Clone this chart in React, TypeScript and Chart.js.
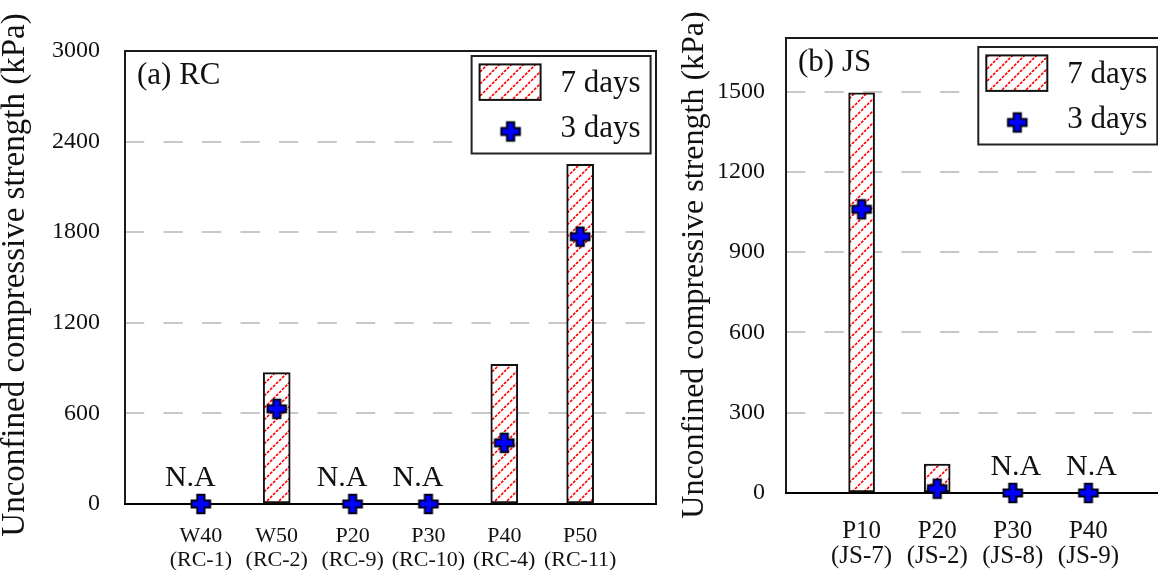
import React, { useEffect, useRef } from 'react';
import { Chart, registerables } from 'chart.js';

Chart.register(...registerables);

const FONT = "'Liberation Serif', 'Times New Roman', Times, serif";

// ---- (a) RC data ----
const rcMixes = ['W40', 'W50', 'P20', 'P30', 'P40', 'P50'];
const rcCodes = ['(RC-1)', '(RC-2)', '(RC-9)', '(RC-10)', '(RC-4)', '(RC-11)'];
const rc7Days: (number | null)[] = [null, 870, null, null, 925, 2250];
const rc3Days: (number | null)[] = [0, 630, 0, 0, 405, 1770];
const rcYTicks = [0, 600, 1200, 1800, 2400, 3000];
const rcYMax = 3000;

// ---- (b) JS data ----
const jsMixes = ['P10', 'P20', 'P30', 'P40'];
const jsCodes = ['(JS-7)', '(JS-2)', '(JS-8)', '(JS-9)'];
const js7Days: (number | null)[] = [1495, 108, null, null];
const js3Days: (number | null)[] = [1060, 16, 0, 0];
const jsYTicks = [0, 300, 600, 900, 1200, 1500];
const jsYMax = 1700;

const legendLabels = ['7 days', '3 days'];
const yTitle = 'Unconfined compressive strength (kPa)';
const naText = 'N.A';

type Panel = {
  tag: string;
  mixes: string[];
  codes: string[];
  d7: (number | null)[];
  d3: (number | null)[];
  yTicks: number[];
  yMax: number;
  left: number;
  width: number;
  padRight: number;
  padTop: number;
  axisW: number;
  xAxisH: number;
  tickPad: number;
  xFont: number;
  xLineH: number;
  xPad: number;
  barW: number;
  titleX: number;
  titleY: number;
  titleSize: number;
  legendTop: number;
  legendInset: number;
  naShift: number;
};

const panels: Panel[] = [
  {
    tag: '(a) RC', mixes: rcMixes, codes: rcCodes, d7: rc7Days, d3: rc3Days,
    yTicks: rcYTicks, yMax: rcYMax,
    left: 0, width: 660, padRight: 4, padTop: 51, axisW: 125, xAxisH: 66, tickPad: 25,
    xFont: 22, xLineH: 1.06, xPad: 21, barW: 27,
    titleX: 24, titleY: 275, titleSize: 33, legendTop: 5, legendInset: 5.4, naShift: -10.5,
  },
  {
    tag: '(b) JS', mixes: jsMixes, codes: jsCodes, d7: js7Days, d3: js3Days,
    yTicks: jsYTicks, yMax: jsYMax,
    left: 660, width: 520, padRight: 16, padTop: 38, axisW: 126, xAxisH: 77, tickPad: 21,
    xFont: 25, xLineH: 1.0, xPad: 26, barW: 26,
    titleX: 43, titleY: 265, titleSize: 32, legendTop: 9, legendInset: 6.7, naShift: 3,
  },
];

function makePlus(): HTMLCanvasElement {
  const c = document.createElement('canvas');
  c.width = 24;
  c.height = 24;
  const q = c.getContext('2d')!;
  const m = 12, h = 9.3, a = 3.6;
  const pts = [
    [-a, -h], [a, -h], [a, -a], [h, -a], [h, a], [a, a],
    [a, h], [-a, h], [-a, a], [-h, a], [-h, -a], [-a, -a],
  ];
  q.beginPath();
  pts.forEach(([x, y], i) => (i === 0 ? q.moveTo(m + x, m + y) : q.lineTo(m + x, m + y)));
  q.closePath();
  q.fillStyle = '#0000ff';
  q.fill();
  q.lineWidth = 2;
  q.lineJoin = 'miter';
  q.strokeStyle = '#000018';
  q.stroke();
  return c;
}

function makePattern(ctx: CanvasRenderingContext2D): CanvasPattern {
  const s = 12;
  const tile = document.createElement('canvas');
  tile.width = s;
  tile.height = s;
  const t = tile.getContext('2d')!;
  t.fillStyle = '#ffffff';
  t.fillRect(0, 0, s, s);
  t.strokeStyle = '#ff0000';
  t.lineWidth = 1.6;
  t.setLineDash([3, 1.3]);
  for (const o of [-s, 0, s]) {
    t.beginPath();
    t.moveTo(o, s);
    t.lineTo(o + s, 0);
    t.stroke();
  }
  return ctx.createPattern(tile, 'repeat')!;
}

function PanelChart({ p }: { p: Panel }) {
  const ref = useRef<HTMLCanvasElement>(null);
  useEffect(() => {
    const canvas = ref.current!;
    const ctx = canvas.getContext('2d')!;
    const pattern = makePattern(ctx);
    const plus = makePlus();
    const labels: any[] = ['', ...p.mixes.map((m, i) => [m, p.codes[i]]), ''];

    const overlay = {
      id: 'overlay' + p.tag,
      beforeDatasetsDraw(chart: any) {
        const { left, right, top, bottom } = chart.chartArea;
        const c = chart.ctx;
        c.save();
        c.strokeStyle = '#1a1a1a';
        c.lineWidth = 2;
        c.beginPath();
        c.moveTo(left, bottom);
        c.lineTo(left, top);
        c.lineTo(right, top);
        c.lineTo(right, bottom);
        c.stroke();
        c.strokeStyle = '#000';
        c.lineWidth = 2.2;
        c.beginPath();
        c.moveTo(left - 1, bottom);
        c.lineTo(right + 1, bottom);
        c.stroke();
        c.restore();
      },
      afterDatasetsDraw(chart: any) {
        const { left, right, top } = chart.chartArea;
        const c = chart.ctx;
        const xs = chart.scales.x;
        const ys = chart.scales.y;
        c.save();
        c.fillStyle = '#111';
        c.textBaseline = 'alphabetic';
        // N.A labels
        c.font = `30px ${FONT}`;
        c.textAlign = 'center';
        p.d7.forEach((v, i) => {
          if (v === null) {
            const x = xs.getPixelForValue(i + 1) + p.naShift;
            const y = ys.getPixelForValue(0) - 18.5;
            c.fillText(naText, x, y);
          }
        });
        // panel tag
        c.textAlign = 'left';
        c.font = `31px ${FONT}`;
        c.fillText(p.tag, left + 12, top + 33);
        // legend
        const bw = 179, bh = 97.5;
        const bx = right - p.legendInset - bw;
        const by = top + p.legendTop;
        c.fillStyle = '#fff';
        c.fillRect(bx, by, bw, bh);
        c.strokeStyle = '#222';
        c.lineWidth = 2;
        c.strokeRect(bx, by, bw, bh);
        c.fillStyle = pattern;
        c.fillRect(bx + 8, by + 8.4, 61, 35.5);
        c.strokeStyle = '#111';
        c.strokeRect(bx + 8, by + 8.4, 61, 35.5);
        c.drawImage(plus, bx + 39 - 12, by + 75.5 - 12);
        c.fillStyle = '#111';
        c.font = `31px ${FONT}`;
        c.fillText(legendLabels[0], bx + 89, by + 36);
        c.fillText(legendLabels[1], bx + 89, by + 80.5);
        c.restore();
      },
      afterDraw(chart: any) {
        const c = chart.ctx;
        c.save();
        c.translate(p.titleX, p.titleY);
        c.rotate(-Math.PI / 2);
        c.fillStyle = '#111';
        c.font = `${p.titleSize}px ${FONT}`;
        c.textAlign = 'center';
        c.textBaseline = 'alphabetic';
        c.fillText(yTitle, 0, 0);
        c.restore();
      },
    };

    const chart = new Chart(ctx, {
      type: 'bar',
      data: {
        labels,
        datasets: [
          {
            type: 'line',
            label: legendLabels[1],
            data: [null, ...p.d3, null],
            showLine: false,
            pointStyle: plus as any,
            pointRadius: 10,
            pointHoverRadius: 10,
            order: 0,
            clip: false as any,
          } as any,
          {
            type: 'bar',
            label: legendLabels[0],
            data: [null, ...p.d7, null],
            backgroundColor: pattern as any,
            borderColor: '#111',
            borderWidth: 2,
            borderSkipped: false,
            barThickness: p.barW,
            order: 1,
            clip: false as any,
          } as any,
        ],
      },
      options: {
        responsive: false,
        animation: false,
        events: [],
        layout: { autoPadding: false, padding: { left: 0, right: p.padRight, top: p.padTop, bottom: 0 } },
        plugins: { legend: { display: false }, tooltip: { enabled: false } },
        scales: {
          x: {
            offset: false,
            grid: { display: false, drawTicks: false },
            border: { display: false },
            ticks: {
              autoSkip: false,
              maxRotation: 0,
              minRotation: 0,
              padding: p.xPad,
              color: '#111',
              font: { family: FONT, size: p.xFont, lineHeight: p.xLineH },
            },
            afterFit: (s: any) => {
              s.height = p.xAxisH;
              s.paddingLeft = 0;
              s.paddingRight = 0;
            },
          },
          y: {
            min: 0,
            max: p.yMax,
            afterBuildTicks: (s: any) => {
              s.ticks = p.yTicks.map((v) => ({ value: v }));
            },
            afterFit: (s: any) => {
              s.width = p.axisW;
              s.paddingTop = 0;
              s.paddingBottom = 0;
            },
            grid: {
              drawTicks: false,
              lineWidth: 2,
              color: (c: any) =>
                c.tick && (c.tick.value === 0 || c.tick.value >= p.yMax) ? 'rgba(0,0,0,0)' : '#c8c8c8',
            },
            border: { display: false, dash: [19.25, 19.25] },
            ticks: {
              padding: p.tickPad,
              color: '#111',
              font: { family: FONT, size: 24 },
              callback: (v: any) => String(v),
            },
          },
        },
      } as any,
      plugins: [overlay],
    });
    return () => chart.destroy();
  }, [p]);

  return (
    <div style={{ position: 'absolute', left: p.left, top: 0, width: p.width, height: 570 }}>
      <canvas ref={ref} width={p.width} height={570} style={{ width: p.width, height: 570, display: 'block' }} />
    </div>
  );
}

export default function App() {
  return (
    <div
      style={{
        position: 'absolute',
        left: 0,
        top: 0,
        width: 1158,
        height: 570,
        overflow: 'hidden',
        background: '#fff',
      }}
    >
      {panels.map((p) => (
        <PanelChart key={p.tag} p={p} />
      ))}
    </div>
  );
}
